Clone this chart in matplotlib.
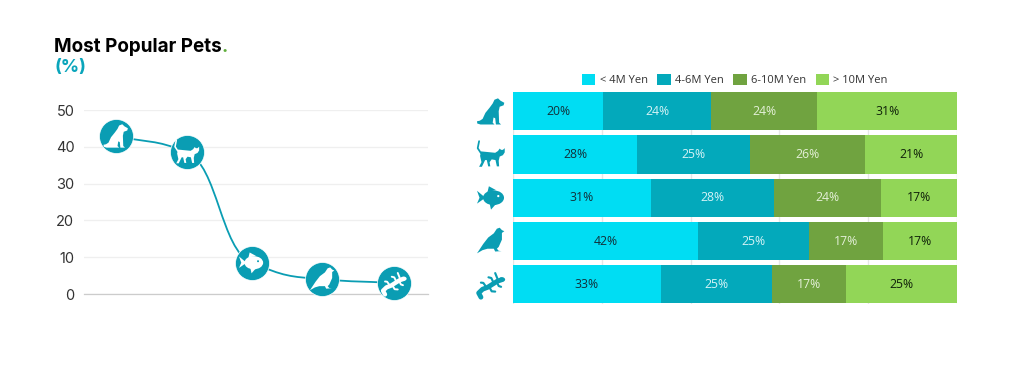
import numpy as np
import matplotlib.pyplot as plt
from matplotlib.patches import Polygon, Ellipse, PathPatch, Patch
from matplotlib.path import Path
from matplotlib.transforms import Affine2D

plt.rcParams['font.family'] = ['Inter', 'DejaVu Sans']

# data
pets = ['dog', 'cat', 'fish', 'bird', 'lizard']
popular_x = [0, 1.02, 1.95, 2.97, 4]
popular_y = [43, 38.5, 8.5, 4, 3]
y_ticks = [0, 10, 20, 30, 40, 50]

income_labels = ['< 4M Yen', '4-6M Yen', '6-10M Yen', '> 10M Yen']
income_colors = ['#00DDF3', '#03A9BB', '#70A340', '#92D657']
label_colors = ['#12303a', '#d5f3f6', '#e4f0d8', '#10220a']
low_income = [20.3, 28.0, 31.1, 41.67, 33.33]
mid_income = [24.3, 25.4, 27.6, 25.0, 25.0]
high_income = [23.9, 25.9, 24.1, 16.67, 16.67]
top_income = [31.4, 20.7, 17.2, 16.67, 25.0]

TEAL = '#0A9DB3'
W, H = 1024, 369


def ax_px(x0, y0, x1, y1):
    return fig.add_axes([x0 / W, 1 - y1 / H, (x1 - x0) / W, (y1 - y0) / H])


# rough silhouettes, unit coords
DOG = [(-1.0, -0.72), (-0.8, -0.68), (-0.6, -0.55), (-0.4, -0.12), (-0.1, 0.25), (0.12, 0.55),
       (0.25, 0.82), (0.5, 0.92), (0.68, 0.75), (0.95, 0.6), (0.9, 0.42), (0.62, 0.32), (0.55, 0.0),
       (0.58, -0.82), (0.72, -0.95), (0.35, -0.95), (0.3, -0.5), (0.18, -0.45), (0.12, -0.82),
       (0.25, -0.95), (-0.75, -0.95), (-0.98, -0.88)]
CAT = [(-0.72, 0.22), (-0.3, 0.18), (0.3, 0.12), (0.5, 0.25), (0.62, 0.42), (0.72, 0.33), (0.85, 0.33),
       (0.98, 0.45), (0.98, 0.15), (0.85, -0.05), (0.62, -0.15), (0.55, -0.45), (0.58, -0.85), (0.42, -0.85),
       (0.32, -0.4), (0.05, -0.35), (-0.1, -0.55), (-0.05, -0.85), (-0.2, -0.85), (-0.3, -0.4), (-0.42, -0.4),
       (-0.65, -0.88), (-0.85, -0.88), (-0.68, -0.55), (-0.78, -0.1)]
CAT_TAIL = [(-0.72, 0.1), (-0.95, 0.45), (-0.85, 0.95)]
BIRD = [(-1.0, -0.88), (-0.55, -0.2), (-0.2, 0.25), (0.2, 0.55), (0.42, 0.88), (0.62, 0.95), (0.78, 0.78),
        (0.95, 0.7), (0.78, 0.58), (0.78, 0.1), (0.55, -0.42), (0.42, -0.55), (0.55, -0.7), (0.75, -0.72),
        (0.3, -0.75), (0.2, -0.55), (-0.25, -0.55), (-0.6, -0.65)]
LIZARD_BODY = [(-0.72, -0.92), (-0.88, -0.62), (-0.6, -0.35), (-0.25, -0.22), (0.1, 0.0), (0.45, 0.22), (0.75, 0.32)]
LIZARD_LEGS = [[(-0.3, -0.25), (-0.55, 0.1), (-0.72, 0.12)], [(-0.15, -0.15), (0.05, -0.5), (0.3, -0.52)],
               [(0.2, 0.08), (0.02, 0.45), (-0.18, 0.5)], [(0.4, 0.2), (0.55, -0.12), (0.72, -0.18)],
               [(0.52, 0.26), (0.38, 0.6), (0.3, 0.8)]]


def poly(ax, pts, tr, color):
    ax.add_patch(Polygon(pts, transform=tr, fc=color, ec='none', clip_on=False, zorder=6))


def stroke(ax, pts, tr, color, lw):
    x, y = zip(*pts)
    ax.plot(x, y, transform=tr, color=color, lw=lw, solid_capstyle='round', solid_joinstyle='round',
            clip_on=False, zorder=6)


def draw_icon(ax, name, px, py, size, color, back):
    # px, py are display pixels
    tr = Affine2D().scale(size).translate(px, py)
    if name == 'dog':
        poly(ax, DOG, tr, color)
    elif name == 'cat':
        poly(ax, CAT, tr, color)
        stroke(ax, CAT_TAIL, tr, color, size * 0.09)
    elif name == 'bird':
        poly(ax, BIRD, tr, color)
    elif name == 'fish':
        ax.add_patch(Ellipse((0.18, 0), 1.5, 1.05, transform=tr, fc=color, ec='none', clip_on=False, zorder=6))
        poly(ax, [(-0.4, 0.0), (-1.0, 0.5), (-0.82, 0.0), (-1.0, -0.42)], tr, color)
        poly(ax, [(-0.25, 0.4), (-0.15, 0.82), (0.35, 0.55)], tr, color)
        poly(ax, [(-0.1, -0.4), (0.0, -0.85), (0.35, -0.45)], tr, color)
        ax.add_patch(Ellipse((0.52, 0.12), 0.16, 0.16, transform=tr, fc=back, ec='none', clip_on=False, zorder=7))
    else:
        stroke(ax, LIZARD_BODY, tr, color, size * 0.25)
        for leg in LIZARD_LEGS:
            stroke(ax, leg, tr, color, size * 0.11)
        ax.add_patch(Ellipse((0.78, 0.34), 0.46, 0.34, transform=tr, fc=color, ec='none', clip_on=False, zorder=6))


def smooth_path(xs, ys, tension=0.48):
    # monotone bezier through the values
    xs, ys = np.array(xs, float), np.array(ys, float)
    d = np.diff(ys) / np.diff(xs)
    m = np.zeros(len(xs))
    m[0], m[-1] = d[0], d[-1]
    for i in range(1, len(xs) - 1):
        m[i] = 2 * d[i - 1] * d[i] / (d[i - 1] + d[i])
    verts, codes = [(xs[0], ys[0])], [Path.MOVETO]
    for i in range(len(xs) - 1):
        h = (xs[i + 1] - xs[i]) * tension
        verts += [(xs[i] + h, ys[i] + m[i] * h), (xs[i + 1] - h, ys[i + 1] - m[i + 1] * h), (xs[i + 1], ys[i + 1])]
        codes += [Path.CURVE4] * 3
    return Path(verts, codes)


fig = plt.figure(figsize=(W / 100, H / 100), dpi=100)

# left chart
ax = ax_px(84, 110, 428, 294)
ax.set_ylim(0, 50)
ax.set_xlim(-32 / 69.5, 4 + 34 / 69.5)
for s in ['top', 'right', 'left']:
    ax.spines[s].set_visible(False)
ax.spines['bottom'].set_color('#cccccc')
ax.spines['bottom'].set_linewidth(0.9)
ax.set_xticks([])
ax.set_yticks(y_ticks)
ax.tick_params(axis='y', length=0, pad=7, labelsize=10.5, labelcolor='#333333')
ax.grid(axis='y', color='#efefef', lw=0.9)
ax.set_axisbelow(True)
ax.add_patch(PathPatch(smooth_path(popular_x, popular_y), fc='none', ec=TEAL, lw=1.3, zorder=3))
ax.plot(popular_x, popular_y, 'o', ms=24.5, color=TEAL, mec='white', mew=0.5, clip_on=False, zorder=5)

fig.canvas.draw()
for name, x, y in zip(pets, popular_x, popular_y):
    px, py = ax.transData.transform((x, y))
    draw_icon(ax, name, px, py, 12.5, 'white', TEAL)

title = fig.text(54 / W, 1 - 47 / H, 'Most Popular Pets', fontsize=13.6, fontweight='bold', color='black', va='center')
fig.text(54 / W, 1 - 68 / H, '(%)', fontsize=13, fontweight='bold', color='#0AA5BB', va='center')
fig.canvas.draw()
ax.annotate('.', xy=(1, 0), xycoords=title, fontsize=13.6, fontweight='bold', color='#5FAE3C', va='bottom',
            annotation_clip=False)

# right chart
ax2 = ax_px(513, 92, 957, 303.5)
rows = np.arange(len(pets))
series = np.array([low_income, mid_income, high_income, top_income], float)
totals = series.sum(axis=0)
left = np.zeros(len(pets))
for vals, col, lcol, lab in zip(series, income_colors, label_colors, income_labels):
    share = vals / totals
    ax2.barh(rows, share, left=left, height=0.887, color=col, label=lab, zorder=3)
    for r, v, s, l0 in zip(rows, vals, share, left):
        ax2.text(l0 + s / 2, r, f'{v:.0f}%', ha='center', va='center', fontsize=8.8, color=lcol,
                 family=['Open Sans', 'DejaVu Sans'], zorder=4)
    left += share
ax2.set_xlim(0, 1)
ax2.set_ylim(len(pets) - 1 + 0.4435, -0.4435)
ax2.set_xticks(np.arange(0, 1.01, 0.2))
ax2.set_yticks([])
ax2.tick_params(axis='x', length=0, labelbottom=False)
ax2.grid(axis='x', color='#e6e6e6', lw=1)
ax2.set_axisbelow(True)
for s in ax2.spines.values():
    s.set_visible(False)

handles = [Patch(fc=c, label=l) for c, l in zip(income_colors, income_labels)]
ax2.legend(handles=handles, loc='lower left', bbox_to_anchor=(582 / W, 1 - 86 / H), bbox_transform=fig.transFigure,
           ncol=4, frameon=False, handlelength=1.2, handleheight=1.2, handletextpad=0.4, columnspacing=0.85,
           borderpad=0, borderaxespad=0, prop={'family': ['Open Sans', 'DejaVu Sans'], 'size': 8},
           labelcolor='#333333')

fig.canvas.draw()
for r, name in zip(rows, pets):
    _, py = ax2.transData.transform((0, r))
    draw_icon(ax2, name, 491, py, 14, TEAL, 'white')

fig.savefig('out.png', dpi=100)
